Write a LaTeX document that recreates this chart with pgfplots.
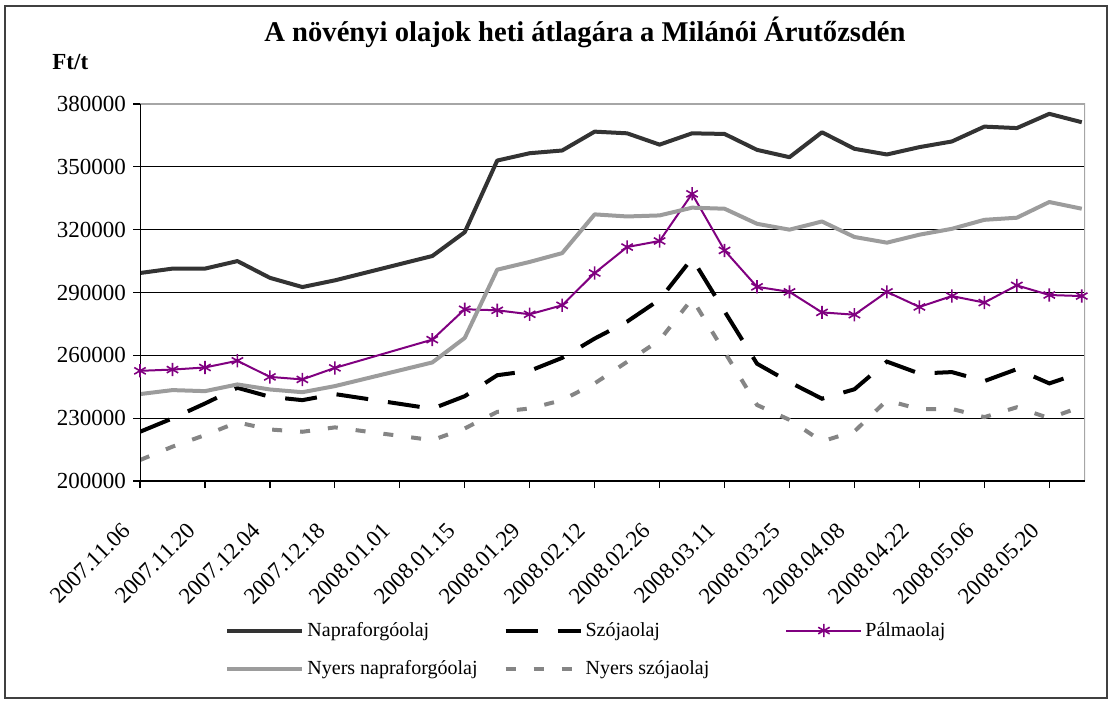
\documentclass[border=0pt]{standalone}
\usepackage{pgfplots}
\pgfplotsset{compat=1.18}
\usepackage{fontspec}
\setmainfont{Liberation Serif}
\definecolor{napra}{HTML}{333333}
\definecolor{nyersnapra}{HTML}{9C9C9C}
\definecolor{nyersszoja}{HTML}{858585}
\definecolor{palma}{HTML}{800080}
\definecolor{frame}{HTML}{404040}
\begin{document}
\begin{tikzpicture}[x=0.5pt,y=0.5pt]
\path[use as bounding box] (0,0) rectangle (1111,700);
\draw[frame, line width=1.2pt] (5,2) rectangle (1107,694);
\node[font=\fontsize{14.3}{17}\selectfont\bfseries] at (585,668) {A növényi olajok heti átlagára a Milánói Árutőzsdén};
\node[font=\fontsize{11.5}{13}\selectfont\bfseries, anchor=west, inner sep=0pt] at (52,638) {Ft/t};
\begin{axis}[
  at={(70pt,109.5pt)}, anchor=south west,
  scale only axis, width=472.5pt, height=188.5pt,
  xmin=0, xmax=29.1, ymin=200000, ymax=380000,
  ytick={200000,230000,260000,290000,320000,350000,380000},
  xtick={0,2,4,6,8,10,12,14,16,18,20,22,24,26,28},
  xticklabels={2007.11.06,2007.11.20,2007.12.04,2007.12.18,2008.01.01,2008.01.15,2008.01.29,2008.02.12,2008.02.26,2008.03.11,2008.03.25,2008.04.08,2008.04.22,2008.05.06,2008.05.20},
  scaled y ticks=false,
  /pgf/number format/assume math mode=true,
  y tick label style={/pgf/number format/.cd, fixed, 1000 sep={}},
  tick label style={font=\fontsize{11.5}{13}\selectfont},
  x tick label style={rotate=45, anchor=north east, xshift=-15pt, yshift=-1.5pt},
  tick align=outside, tick pos=left, major tick length=3.5pt,
  tick style={black, line width=0.6pt},
  axis line style={draw=none},
  ymajorgrids, grid style={black, line width=0.5pt},
  legend columns=3,
  legend cell align=left,
  legend style={at={(0.090,-0.365)}, anchor=north west, draw=none, fill=none, inner sep=0pt,
    font=\fontsize{10}{12}\selectfont, column sep=0pt, row sep=7.5pt, nodes={inner sep=1.5pt},
    /tikz/column 2/.style={column sep=11.5pt}, /tikz/column 4/.style={column sep=36.5pt}},
  legend image code/.code={\draw[mark repeat=2,mark phase=2,#1] plot coordinates {(0pt,0pt) (18.75pt,0pt) (37.5pt,0pt)};},
]
\addplot[napra, line width=2pt, line join=round] coordinates {
(0,299300)(1,301400)(2,301400)(3,305000)(4,297000)(5,292600)(6,295800)(9,307400)(10,318800)
(11,353000)(12,356500)(13,357800)(14,366800)(15,366000)(16,360600)(17,366000)(18,365700)(19,358100)
(20,354600)(21,366500)(22,358600)(23,355900)(24,359400)(25,362100)(26,369200)(27,368500)(28,375300)(29,371300)};
\addlegendentry{Napraforgóolaj}
\addplot[black, line width=2pt, dash pattern=on 16pt off 10pt] coordinates {
(0,223500)(1,229900)(2,237000)(3,244500)(4,240200)(5,238600)(6,241500)(9,234500)(10,240500)
(11,250500)(12,252600)(13,258800)(14,268000)(15,276100)(16,286600)(17,306300)(18,281000)(19,256000)
(20,247200)(21,239300)(22,243800)(23,257000)(24,251300)(25,252000)(26,247700)(27,253400)(28,246600)(29,251800)};
\addlegendentry{Szójaolaj}
\addplot[palma, line width=1pt, mark=asterisk, mark size=3.3pt, mark options={solid, line width=0.8pt}] coordinates {
(0,252600)(1,253200)(2,254200)(3,257400)(4,249700)(5,248500)(6,254000)(9,267500)(10,282000)
(11,281500)(12,279600)(13,283900)(14,299300)(15,311700)(16,314600)(17,337100)(18,310100)(19,292700)
(20,290300)(21,280500)(22,279400)(23,290300)(24,283100)(25,288300)(26,285200)(27,293400)(28,288800)(29,288300)};
\addlegendentry{Pálmaolaj}
\addplot[nyersnapra, line width=2pt, line join=round] coordinates {
(0,241500)(1,243400)(2,242900)(3,246100)(4,243700)(5,242400)(6,245300)(9,256600)(10,268300)
(11,300900)(12,304600)(13,308800)(14,327300)(15,326300)(16,326800)(17,330500)(18,330000)(19,322800)
(20,320000)(21,323900)(22,316500)(23,313800)(24,317600)(25,320400)(26,324700)(27,325700)(28,333200)(29,330000)};
\addlegendentry{Nyers napraforgóolaj}
\addplot[nyersszoja, line width=2pt, dash pattern=on 5pt off 9pt] coordinates {
(0,210000)(1,216400)(2,221900)(3,228000)(4,224600)(5,223500)(6,225600)(9,219500)(10,225100)
(11,233000)(12,234600)(13,238600)(14,246600)(15,256900)(16,267200)(17,287000)(18,261600)(19,236300)
(20,229200)(21,218900)(22,223700)(23,238500)(24,234300)(25,234400)(26,230500)(27,235200)(28,230000)(29,235500)};
\addlegendentry{Nyers szójaolaj}
\draw[gray!70, line width=1pt] (rel axis cs:0,1) -- (rel axis cs:1,1) -- (rel axis cs:1,0);
\draw[black, line width=0.8pt] (rel axis cs:0,1) -- (rel axis cs:0,0) -- (rel axis cs:1,0);
\end{axis}
\end{tikzpicture}
\end{document}
